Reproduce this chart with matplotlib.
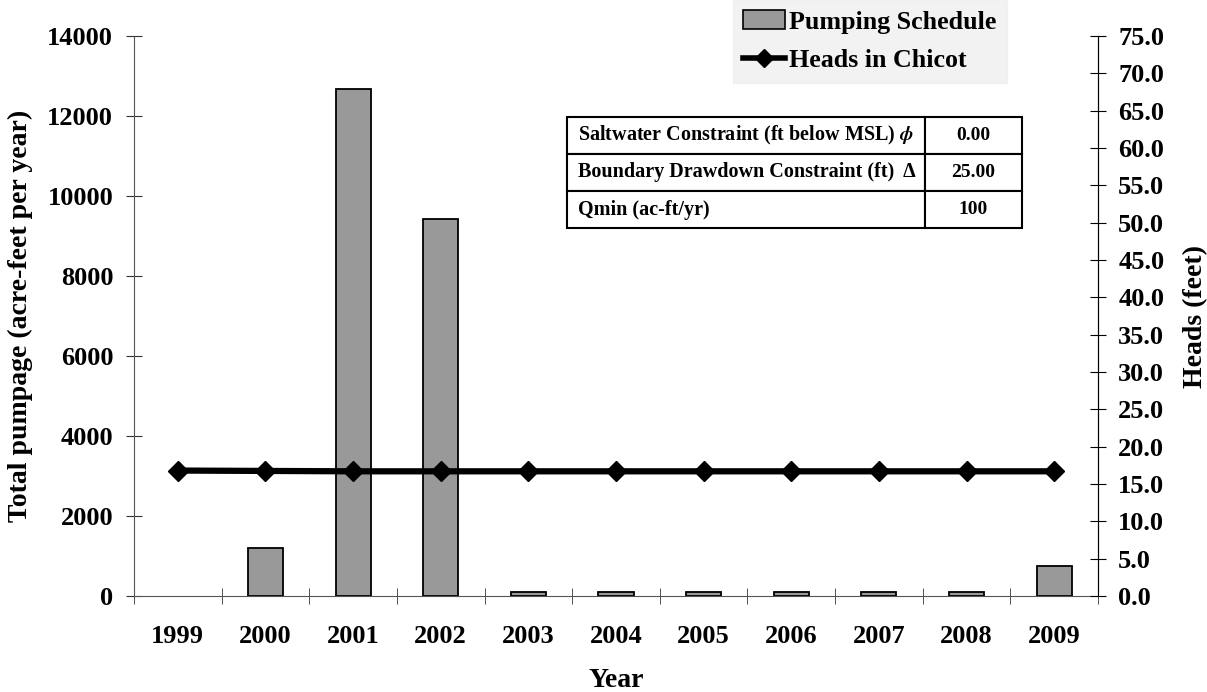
import matplotlib
matplotlib.use("Agg")
import matplotlib.pyplot as plt
import numpy as np
from matplotlib.lines import Line2D
from matplotlib.patches import Patch

plt.rcParams['font.family'] = 'Liberation Serif'
plt.rcParams['font.weight'] = 'bold'
plt.rcParams['mathtext.fontset'] = 'stix'

# Pumping schedule and simulated heads
years = ['1999', '2000', '2001', '2002', '2003', '2004', '2005', '2006', '2007', '2008', '2009']
pumpage = [0, 1200, 12680, 9420, 100, 100, 100, 100, 100, 100, 750]
heads = [16.8, 16.75, 16.7, 16.7, 16.7, 16.7, 16.7, 16.7, 16.7, 16.7, 16.7]

constraints = [['Saltwater Constraint (ft below MSL) $\\phi$', '0.00'],
               ['Boundary Drawdown Constraint (ft)  Δ', '25.00'],
               ['Qmin (ac-ft/yr)', '100']]

fs = 19
lfs = 20

fig = plt.figure(figsize=(12.07, 6.92), dpi=100)
ax1 = fig.add_axes([134/1207, 1-596/692, (1098-134)/1207, 560/692])
x = np.arange(len(years))

bars = ax1.bar(x, pumpage, width=0.4, color='#999999', edgecolor='black', linewidth=1.3, zorder=2)
for b, v in zip(bars, pumpage):
    if v == 0:
        b.set_visible(False)
ax1.set_xlim(-0.5, len(years)-0.5)
ax1.set_ylim(0, 14000)
ax1.set_yticks(np.arange(0, 14001, 2000))
ax1.set_xticks(x)
ax1.set_xticklabels(years, fontsize=fs, fontweight='bold')
ax1.set_xticks(np.arange(-0.5, len(years)), minor=True)
ax1.tick_params(axis='x', which='major', length=0, pad=21)
ax1.tick_params(axis='x', which='minor', direction='inout', length=12, color='#333333')
ax1.tick_params(axis='y', direction='inout', length=12, labelsize=fs, color='#333333', pad=9)
for lab in ax1.get_yticklabels():
    lab.set_fontweight('bold')
ax1.set_ylabel('Total pumpage (acre-feet per year)', fontsize=lfs, fontweight='bold')
ax1.yaxis.set_label_coords(-101/964, 0.5)
ax1.set_xlabel('Year', fontsize=lfs, fontweight='bold')
ax1.xaxis.set_label_coords(0.5, -72/560)
ax1.spines['top'].set_visible(False)
ax1.spines['left'].set_color('#555555')
ax1.spines['bottom'].set_color('#555555')

ax2 = ax1.twinx()
ax2.plot(x, heads, color='black', linewidth=4.5, marker='D', markersize=10, zorder=3)
ax2.set_ylim(0, 75)
ax2.set_yticks(np.arange(0, 75.1, 5))
ax2.set_yticklabels(['%.1f' % v for v in np.arange(0, 75.1, 5)], fontsize=fs, fontweight='bold')
ax2.tick_params(axis='y', direction='inout', length=12, pad=8.5)
ax2.set_ylabel('Heads (feet)', fontsize=lfs, fontweight='bold')
ax2.yaxis.set_label_coords(1 + 85/964, 0.5)
ax2.spines['top'].set_visible(False)
ax2.spines['left'].set_visible(False)
ax2.spines['bottom'].set_visible(False)
ax1.set_zorder(ax2.get_zorder() - 1)
ax2.patch.set_visible(False)

handles = [Patch(facecolor='#999999', edgecolor='black', linewidth=1.2),
           Line2D([0], [0], color='black', linewidth=4, marker='D', markersize=9)]
leg = fig.legend(handles, ['Pumping Schedule', 'Heads in Chicot'],
                 loc='upper left', bbox_to_anchor=(733/1207, 1.0),
                 prop={'family': 'Liberation Serif', 'weight': 'bold', 'size': 18.7},
                 frameon=True, fancybox=False, handlelength=1.6, handletextpad=0.15,
                 borderpad=0.4, labelspacing=0.6, borderaxespad=0)
leg.get_frame().set_facecolor('#efefef')
leg.get_frame().set_edgecolor('#efefef')

tab = ax2.table(cellText=constraints, cellLoc='center',
                colWidths=[358, 97],
                bbox=[(567-134)/964, (596-228)/560, (1022-567)/964, (228-117)/560])
tab.auto_set_font_size(False)
for (r, c), cell in tab.get_celld().items():
    cell.set_linewidth(1.5)
    cell.get_text().set_fontweight('bold')
    if c == 0:
        cell.get_text().set_fontsize(14.5)
        cell.get_text().set_ha('left')
        cell.PAD = 0.03
    else:
        cell.get_text().set_fontsize(14)

fig.savefig('out.png', dpi=100)
